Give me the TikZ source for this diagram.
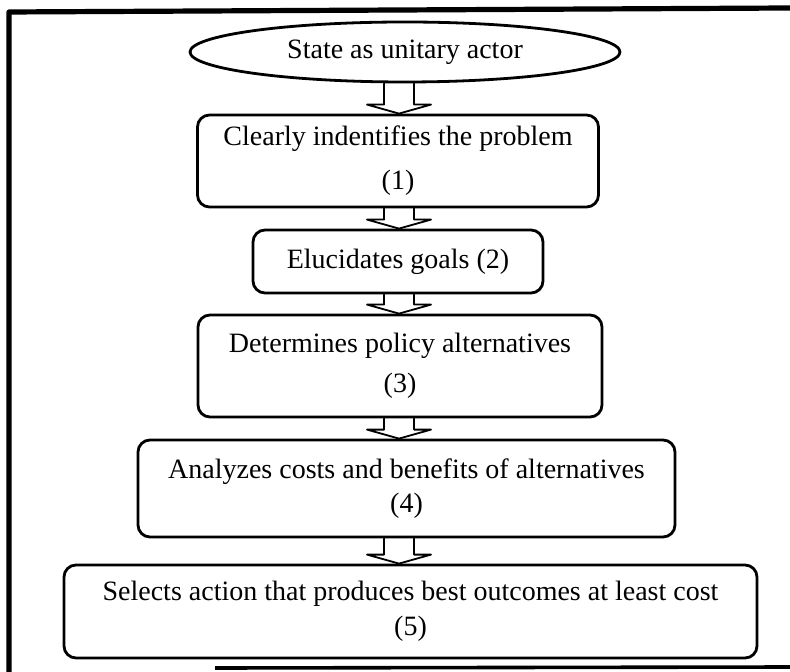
\documentclass[tikz,border=0pt]{standalone}
\usepackage{fontspec}
\setmainfont{Liberation Serif}
\usetikzlibrary{calc,shapes.geometric}
\tikzset{
  actor/.style={ellipse, draw, line width=1.4pt, minimum width=215pt, minimum height=30pt, inner sep=0pt, font=\fontsize{14}{17}\selectfont},
  stage/.style={draw, line width=1.4pt, rounded corners=6pt, align=center, inner sep=0pt, font=\fontsize{14}{21}\selectfont},
  blockarr/.style={line width=0.9pt},
  frame/.style={line width=2.6pt, line cap=butt},
  every picture/.style={line cap=round, line join=round}
}
% hollow block arrow from the bottom of one step to the top of the next
\newcommand{\stagearrow}[2]{%
  \draw[blockarr] ($(#1.south -| axis)+(-15,0)$) -- ($(#2.north -| axis)+(-15,-9)$)
    -- ++(-17,0) -- (#2.north -| axis) -- ($(#2.north -| axis)+(32,-9)$)
    -- ++(-17,0) -- ($(#1.south -| axis)+(15,0)$);}

\begin{document}
\begin{tikzpicture}[x=0.5pt, y=-0.5pt]
    \useasboundingbox (0,0) rectangle (790,672);
    \coordinate (axis) at (399,0);

    \draw[frame] (9,672) -- (9,12) -- (790,8);
    \draw[frame, line width=1.8pt] (215,668) -- (790,667);

    \node[actor] (state) at (405,52) {State as unitary actor};
    \node[stage, minimum width=200.5pt, minimum height=46pt, font=\fontsize{14}{22}\selectfont] (identify) at (398,161) {Clearly indentifies the problem\\(1)};
    \node[stage, minimum width=145pt, minimum height=31.5pt] (goals) at (398,261.5) {Elucidates goals (2)};
    \node[stage, minimum width=202pt, minimum height=51pt, font=\fontsize{14}{20}\selectfont] (alternatives) at (400,366) {Determines policy alternatives\\(3)};
    \node[stage, minimum width=268.5pt, minimum height=48.5pt, font=\fontsize{14}{17}\selectfont] (analyze) at (406.5,488.5) {Analyzes costs and benefits of alternatives\\(4)};
    \node[stage, minimum width=346.5pt, minimum height=46.5pt, font=\fontsize{14}{17.5}\selectfont] (select) at (410.5,611.5) {Selects action that produces best outcomes at least cost\\(5)};

    \stagearrow{state}{identify}
    \stagearrow{identify}{goals}
    \stagearrow{goals}{alternatives}
    \stagearrow{alternatives}{analyze}
    \stagearrow{analyze}{select}
\end{tikzpicture}
\end{document}
